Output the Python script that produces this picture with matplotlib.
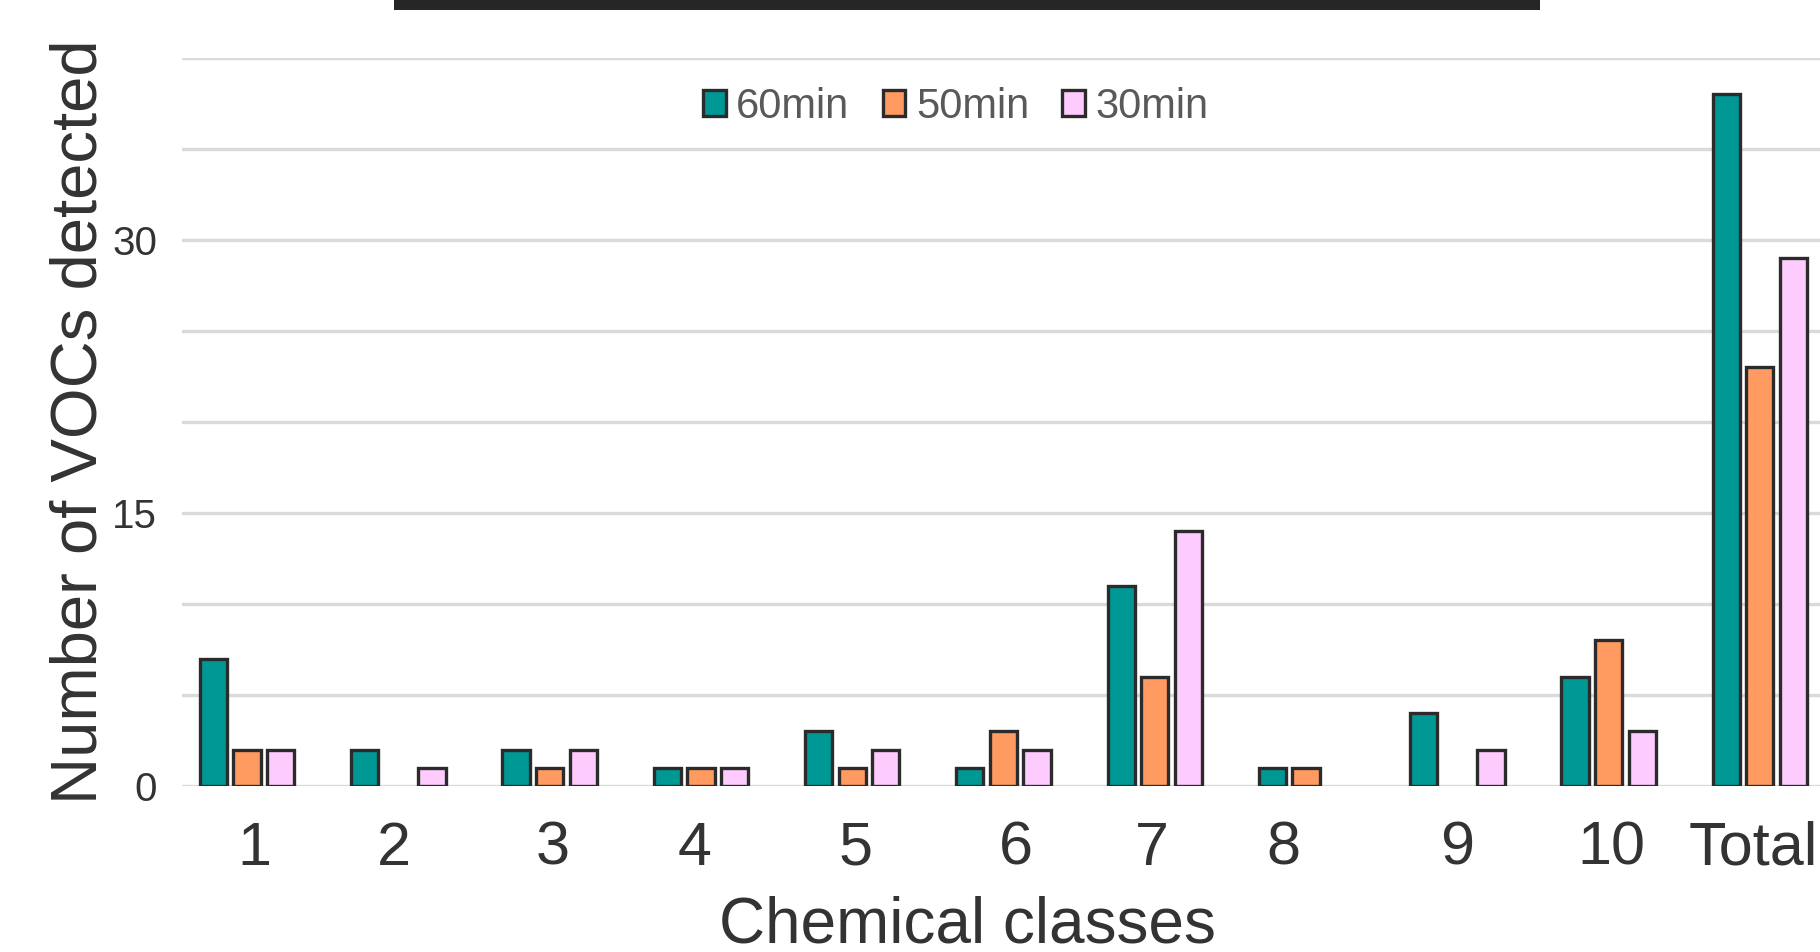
import matplotlib
matplotlib.use("Agg")
import matplotlib.pyplot as plt
from matplotlib.patches import Rectangle
import numpy as np

plt.rcParams['font.family'] = ['Liberation Sans', 'DejaVu Sans']

categories = ["1", "2", "3", "4", "5", "6", "7", "8", "9", "10", "Total"]
series_names = ["60min", "50min", "30min"]
vals_60 = [7, 2, 2, 1, 3, 1, 11, 1, 4, 6, 38]
vals_50 = [2, 0, 1, 1, 1, 3, 6, 1, 0, 8, 23]
vals_30 = [2, 1, 2, 1, 2, 2, 14, 0, 2, 3, 29]
colors = ["#009894", "#ff9a60", "#fecbfe"]
edge = "#2b2b2b"

# small label position tweaks (as in the reference)
tick_offsets = [0.05, -0.03, 0.02, -0.04, 0.02, 0.08, -0.02, -0.15, 0.0, 0.02, -0.04]

fig = plt.figure(figsize=(18.2, 9.52), dpi=100)
ax = fig.add_axes([0.1, 0.1744, 0.9027, 0.7647])

x = np.arange(len(categories))
pitch = 0.222
width = 0.18
for i, (vals, name, c) in enumerate(zip([vals_60, vals_50, vals_30], series_names, colors)):
    lws = [2.4 if v > 0 else 0 for v in vals]
    ax.bar(x + (i - 1) * pitch, vals, width=width, color=c, edgecolor=edge,
           linewidth=lws, label=name, zorder=3)

ax.set_xlim(-0.43, len(categories) - 1 + 0.43)
ax.set_ylim(0, 40)
yt = np.arange(0, 45, 5)
ax.set_yticks(yt)
ax.set_yticklabels([str(v) if v in (0, 15, 30) else "" for v in yt])
ax.yaxis.grid(True, color="#dadada", linewidth=2.4, zorder=0)
ax.set_axisbelow(True)
ax.tick_params(axis='y', length=0, pad=18, labelsize=29, labelcolor="#333333")
ax.set_xticks(x + np.array(tick_offsets))
ax.set_xticklabels(categories)
ax.tick_params(axis='x', length=0, pad=25, labelsize=44, labelcolor="#333333")
for s in ax.spines.values():
    s.set_visible(False)

ax.set_ylabel("Number of VOCs detected", fontsize=47, color="#333333")
ax.yaxis.set_label_coords(-0.044, 0.5)
ax.set_xlabel("Chemical classes", fontsize=46, color="#333333", va="center")
ax.xaxis.set_label_coords(0.478, -0.1923)

leg = ax.legend(loc="center", bbox_to_anchor=(0.471, 0.933), ncol=3, frameon=False,
                fontsize=30, handlelength=0.55, handleheight=0.55, handletextpad=0.25,
                columnspacing=0.8, borderaxespad=0)
for t in leg.get_texts():
    t.set_color("#595959")
for h in leg.legend_handles:
    h.set_linewidth(2.4)

fig.patches.append(Rectangle((394 / 1820, 1 - 10 / 952), (1540 - 394) / 1820, 10 / 952,
                             transform=fig.transFigure, facecolor="#262626",
                             edgecolor="none", figure=fig))

fig.savefig("out.png", dpi=100)
